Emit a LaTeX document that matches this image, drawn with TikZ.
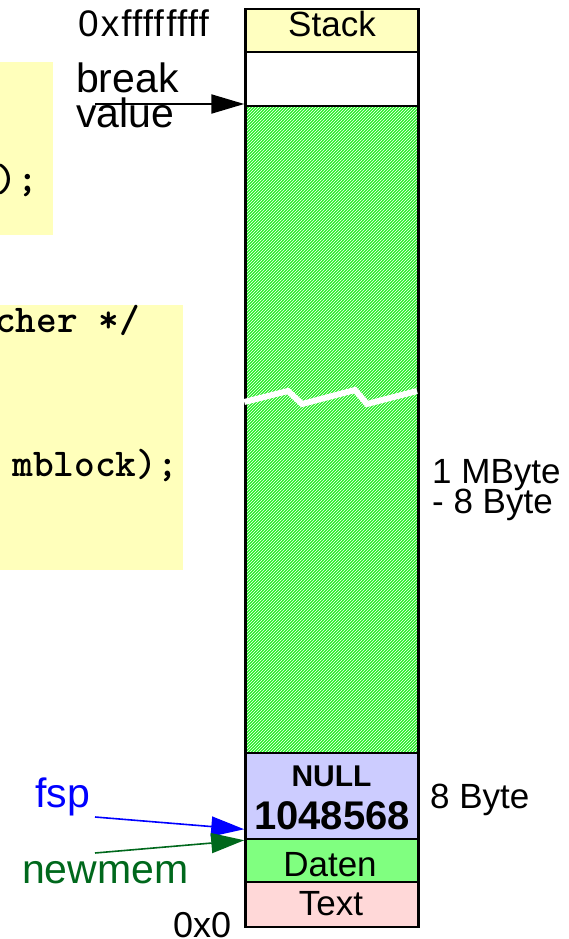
\documentclass[tikz,border=0pt]{standalone}
\usepackage{fontspec}
\setmainfont{Liberation Sans}
\usetikzlibrary{arrows.meta,patterns,calc}

\definecolor{codebg}{RGB}{255,255,187}
\definecolor{stackbg}{RGB}{255,255,192}
\definecolor{heapgreen}{RGB}{40,238,40}
\definecolor{hdrbg}{RGB}{204,204,255}
\definecolor{datenbg}{RGB}{128,255,128}
\definecolor{textbg}{RGB}{255,216,216}
\definecolor{memgreen}{RGB}{0,104,28}

\tikzset{
  seg/.style={draw=black, line width=2.5pt, rectangle, inner sep=0pt,
              minimum width=173pt},
  codebox/.style={fill=codebg, draw=none, rectangle, inner sep=0pt},
  lbl/.style={inner sep=0pt, font=\fontsize{35}{35}\selectfont},
  biglbl/.style={inner sep=0pt, font=\fontsize{41}{41}\selectfont},
  code/.style={inner sep=0pt, font=\ttfamily\bfseries\fontsize{39.4}{39.4}\selectfont},
  ptr/.style={-{Triangle[length=33pt,width=20pt]}},
}

\begin{document}
\begin{tikzpicture}[x=1pt,y=-1pt]
\useasboundingbox (0,0) rectangle (568,939);
\clip (0,0) rectangle (568,939);

% code fragments on the left
\node[codebox, minimum width=53pt, minimum height=173pt] (codeA) at (26.5,148.5) {};
\node[codebox, minimum width=183pt, minimum height=265pt] (codeB) at (91.5,437.5) {};
\node[code, anchor=base east] (cA1) at (38,191) {);};
\node[code, anchor=base west] (cB1) at (-5,332) {cher */};
\node[code, anchor=base east] (cB2) at (178,476) {mblock);};

% memory column
\node[seg, fill=stackbg, minimum height=43pt] (stack) at (332,30.5) {};
\node[seg, fill=white, minimum height=54pt] (gap) at (332,79) {};
\node[seg, minimum height=647pt,
      preaction={fill=heapgreen},
      preaction={pattern=north east lines, pattern color=white}] (heap) at (332,429.5) {};
\node[seg, fill=hdrbg, minimum height=86pt] (hdr) at (332,796) {};
\node[seg, fill=datenbg, minimum height=43pt] (daten) at (332,860.5) {};
\node[seg, fill=textbg, minimum height=45pt] (textseg) at (332,904.5) {};

% break mark across the heap
\draw[white, line width=6pt, line join=miter]
  (heap.west |- 0,402) -- (288,391) -- (302,404) -- (355,390) -- (367,404)
  -- (417,391);

% segment texts
\node[lbl, anchor=base] (tStack) at (332,37) {Stack};
\node[inner sep=0pt, anchor=base, font=\bfseries\fontsize{30}{30}\selectfont] (tNull) at (331.5,786) {NULL};
\node[inner sep=0pt, anchor=base, font=\bfseries\fontsize{40}{40}\selectfont] (tSize) at (332,829) {1048568};
\node[lbl, anchor=base] (tDaten) at (330,876) {Daten};
\node[lbl, anchor=base] (tText) at (331,915.5) {Text};

% addresses and sizes
\node[lbl, anchor=base west, font=\fontsize{37}{37}\selectfont] (hi) at (78,37)
  {0\kern2pt x\kern2pt f\kern.5pt f\kern.5pt f\kern.5pt f\kern2.5pt f\kern.5pt f\kern.5pt f\kern.5pt f};
\node[lbl, anchor=base west, font=\fontsize{36}{36}\selectfont] (lo) at (173,937) {0x0};
\node[lbl, anchor=base west] (mb1) at (432,483) {1 MByte};
\node[lbl, anchor=base west] (mb2) at (432,513) {- 8 Byte};
\node[lbl, anchor=base west] (eight) at (430,808) {8 Byte};

% break value pointer
\node[biglbl, anchor=base west] (brk) at (76,93) {break};
\node[biglbl, anchor=base west] (val) at (76,128) {value};
\coordinate (bvstart) at (95,104);
\draw[ptr, line width=2.2pt, -{Triangle[length=33pt,width=19pt]}] (bvstart) -- (bvstart -| gap.west);

% fsp and newmem pointers
\node[biglbl, anchor=base west, text=blue] (fsp) at (35,807) {fsp};
\node[biglbl, anchor=base west, text=memgreen] (newmem) at (22,883) {newmem};
\coordinate (fspstart) at (95,817);
\coordinate (nmstart) at (95,853);
\draw[ptr, blue, line width=1.6pt] (fspstart) -- ($(hdr.south west)+(0,-11)$);
\draw[ptr, memgreen, line width=1.6pt] (nmstart) -- (hdr.south west);
\end{tikzpicture}
\end{document}
